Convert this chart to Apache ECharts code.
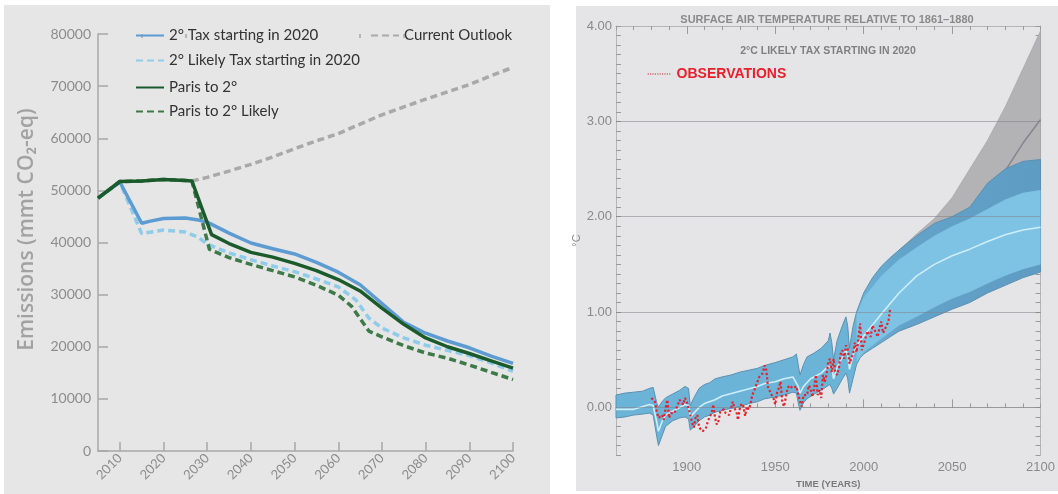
<!DOCTYPE html>
<html><head><meta charset="utf-8">
<script src="https://cdn.jsdelivr.net/npm/echarts/dist/echarts.min.js"></script>
<style>
html,body{margin:0;padding:0;background:#fff;width:1058px;height:494px;overflow:hidden}
#p1{position:absolute;left:4px;top:5px;width:546px;height:489px;background:#e6e6e7}
#p2{position:absolute;left:576px;top:6px;width:482px;height:485px;background:#e5e5e7}
#c{position:absolute;left:0;top:0;width:1058px;height:494px}
</style></head><body>
<div id="p1"></div><div id="p2"></div><div id="c"></div>
<script>
// ---------- Left panel: emissions ----------
const decadeTicks = [2010,2020,2030,2040,2050,2060,2070,2080,2090,2100];
const halfTicks = [2015,2025,2035,2045,2055,2065,2075,2085,2095];

const emYearsTax = [2005,2010,2015,2017,2020,2025,2028,2030,2035,2040,2045,2050,2055,2060,2065,2070,2075,2080,2085,2090,2095,2100];
const emTax      = [48500,51600,43700,44100,44600,44700,44300,43900,41800,39900,38800,37800,36200,34300,31900,28300,24700,22600,21100,19800,18200,16800];

const emYearsLikely = [2005,2010,2015,2020,2025,2028,2030,2035,2040,2045,2050,2055,2060,2064,2067,2070,2075,2080,2085,2090,2095,2100];
const emLikely      = [48500,51600,41700,42400,42000,41000,39700,38000,36700,35500,34400,33000,31500,29000,25500,23600,21700,20300,19300,18300,16900,15300];

const emYearsParis = [2005,2010,2015,2020,2025,2026.5,2031,2035,2040,2045,2050,2055,2060,2065,2070,2075,2080,2085,2090,2095,2100];
const emParis      = [48500,51700,51800,52100,51900,51800,41500,39800,38100,37200,36000,34600,32900,30700,27400,24300,21700,20000,18700,17300,15900];

const emYearsParisLikely = [2005,2010,2015,2020,2025,2026.5,2030.5,2035,2040,2045,2050,2055,2060,2063,2065,2067,2070,2075,2080,2085,2090,2095,2100];
const emParisLikely      = [48500,51700,51800,52100,51900,51800,38700,37100,35800,34600,33400,31800,29900,27800,25400,23000,21900,20200,18800,17800,16500,15100,13700];

const emYearsOutlook = [2026.5,2030,2035,2040,2045,2050,2055,2060,2065,2070,2075,2080,2085,2090,2095,2100];
const emOutlook      = [51800,52500,53700,55000,56400,58000,59500,60900,62700,64500,66000,67500,68900,70300,72000,73600];

// ---------- Right panel: temperature ----------
const majorYears = [1900,1950,2000,2050];
const tempGridLines = [0,1,2,3];

const bandYears = [1860,1865,1870,1875,1879,1881,1883,1884,1886,1888,1892,1896,1899,1901,1902,1904,1907,1910,1913,1916,1920,1925,1930,1935,1940,1944,1950,1955,1960,1962,1963,1964,1966,1968,1972,1976,1980,1981,1982,1983,1985,1988,1990,1991,1992,1994,1996,1998,2000,2005,2010,2015,2020,2030,2040,2050,2060,2070,2080,2090,2100];
const bandHigh  = [0.13,0.15,0.16,0.17,0.2, 0.21,0.05,0.0,0.06,0.1, 0.14,0.18,0.22,0.2,0.02, 0.1,0.2,0.24,0.26,0.3, 0.32,0.34,0.37,0.39,0.41, 0.44,0.47,0.5,0.53,0.56, 0.45,0.34,0.45,0.53,0.57, 0.62,0.7,0.78,0.68,0.5, 0.7,0.86,0.95,0.85,0.62, 0.85,1.0,1.1,1.2,1.36, 1.48,1.57,1.65,1.8,1.93, 2.0,2.1,2.35,2.5,2.58, 2.6];
const bandLow   = [-0.11,-0.1,-0.08,-0.07,-0.06, -0.08,-0.3,-0.4,-0.3,-0.2, -0.14,-0.11,-0.1,-0.12,-0.24, -0.2,-0.14,-0.1,-0.08,-0.05, -0.03,-0.01,0.01,0.04,0.06, 0.09,0.11,0.13,0.16,0.15, 0.05,-0.03,0.05,0.09,0.14, 0.18,0.23,0.24,0.2,0.14, 0.2,0.3,0.36,0.3,0.15, 0.3,0.45,0.52,0.56,0.62, 0.68,0.74,0.8,0.87,0.95, 1.03,1.1,1.2,1.28,1.36, 1.42];

const coreYears = [1996,2000,2010,2020,2030,2040,2050,2060,2070,2080,2090,2100];
const coreHigh  = [0.98,1.15,1.38,1.55,1.68,1.8,1.9,1.98,2.08,2.18,2.25,2.28];
const coreLow   = [0.47,0.58,0.72,0.86,0.95,1.05,1.14,1.21,1.3,1.38,1.45,1.5];

const medYears = [1860,1870,1879,1881,1883,1884,1886,1888,1892,1896,1899,1901,1902,1904,1907,1910,1916,1920,1930,1940,1944,1950,1955,1960,1963,1964,1966,1970,1976,1980,1982,1983,1985,1988,1990,1991,1992,1994,1996,2000,2010,2020,2030,2040,2050,2060,2070,2080,2090,2100];
const medVals  = [-0.02,-0.02,0.03,0.02,-0.15,-0.25,-0.15,-0.08,-0.04,0.0,0.03,0.02,-0.1,-0.06,0.0,0.04,0.08,0.12,0.17,0.22,0.25,0.27,0.3,0.32,0.22,0.15,0.22,0.3,0.36,0.43,0.42,0.3,0.42,0.53,0.6,0.55,0.4,0.55,0.65,0.75,0.98,1.2,1.38,1.5,1.59,1.66,1.74,1.81,1.86,1.89];

const grayYears = [2015,2020,2030,2040,2050,2060,2070,2080,2090,2100];
const grayHigh  = [1.5,1.65,1.82,1.98,2.2,2.5,2.8,3.15,3.55,3.95];
const grayLow   = [0.9,1.0,1.1,1.2,1.35,1.45,1.55,1.65,1.7,1.75];
const grayMedYears = [2050,2060,2070,2080,2090,2100];
const grayMed      = [1.7,1.95,2.2,2.48,2.77,3.02];

const obsYears = [];
for (let y = 1880; y <= 2015; y++) obsYears.push(y);
const obsVals = [0.10,0.11,0.06,-0.04,-0.11,-0.13,-0.08,-0.13,-0.01,0.08,
 -0.11,-0.06,-0.04,-0.06,-0.04,0.03,0.08,0.06,0.03,0.10,
 0.06,0.04,-0.08,-0.16,-0.21,-0.11,-0.08,-0.21,-0.23,-0.25,
 -0.23,-0.21,-0.14,-0.13,-0.06,0.03,-0.11,-0.18,-0.14,-0.04,
 -0.04,-0.02,-0.06,-0.04,-0.08,-0.01,0.06,-0.01,-0.04,-0.13,
 -0.01,0.04,0.01,-0.09,0.01,-0.02,0.03,0.13,0.17,0.17,
 0.27,0.32,0.34,0.36,0.44,0.39,0.20,0.17,0.13,0.10,
 0.03,0.15,0.20,0.27,0.06,0.01,0.01,0.20,0.23,0.22,
 0.20,0.22,0.22,0.23,0.06,0.01,0.13,0.15,0.13,0.23,
 0.20,0.11,0.20,0.34,0.13,0.18,0.10,0.34,0.27,0.34,
 0.48,0.51,0.37,0.51,0.37,0.34,0.41,0.56,0.60,0.51,
 0.65,0.61,0.46,0.48,0.56,0.68,0.58,0.72,0.88,0.60,
 0.62,0.72,0.80,0.80,0.74,0.86,0.82,0.84,0.74,0.84,
 0.90,0.78,0.82,0.86,0.90,1.04];

const pairs = (xs, ys) => xs.map((x, i) => [x, ys[i]]);

function band(name, xs, lo, hi, fill, stroke, lw, z) {
  return {
    name, type: 'custom', xAxisIndex: 2, yAxisIndex: 1, z, silent: true,
    data: [[xs[0], lo[0]]],
    renderItem: function (params, api) {
      const pts = [];
      for (let i = 0; i < xs.length; i++) pts.push(api.coord([xs[i], hi[i]]));
      for (let i = xs.length - 1; i >= 0; i--) pts.push(api.coord([xs[i], lo[i]]));
      return { type: 'polygon', shape: { points: pts },
        style: { fill: fill, stroke: stroke || null, lineWidth: lw || 0 } };
    }
  };
}

const chart = echarts.init(document.getElementById('c'), null, { renderer: 'canvas' });
const axisGray = '#a8a8a8';
const lblGray = '#8c8c8c';
const legendText = { fontSize: 15, color: '#333333', fontFamily: 'Lato' };
const noSymbol = { opacity: 0 };

const option = {
  animation: false,
  backgroundColor: 'transparent',
  title: [
    { text: 'SURFACE AIR TEMPERATURE RELATIVE TO 1861\u20131880', left: 822, top: 9, textAlign: 'center',
      textStyle: { fontSize: 11, fontWeight: 'bold', color: '#8a8a8a', fontFamily: 'Liberation Sans' } },
    { text: '2\u00b0C LIKELY TAX STARTING IN 2020', left: 823, top: 41, textAlign: 'center',
      textStyle: { fontSize: 10.5, fontWeight: 'bold', color: '#808080', fontFamily: 'Liberation Sans' } }
  ],
  legend: [
    { data: ['2\u00b0 Tax starting in 2020', '2\u00b0 Likely Tax starting in 2020'], orient: 'vertical', padding: 0,
      left: 135, top: 28, itemWidth: 28, itemHeight: 14, itemGap: 10, selectedMode: false, textStyle: legendText, itemStyle: noSymbol },
    { data: ['Paris to 2\u00b0', 'Paris to 2\u00b0 Likely'], orient: 'vertical', padding: 0,
      left: 135, top: 80, itemWidth: 28, itemHeight: 14, itemGap: 9, selectedMode: false, textStyle: legendText, itemStyle: noSymbol },
    { data: ['Current Outlook'], orient: 'vertical', padding: 0,
      left: 370, top: 28, itemWidth: 28, itemHeight: 14, selectedMode: false, textStyle: legendText, itemStyle: noSymbol },
    { data: ['OBSERVATIONS'], left: 647, top: 67, padding: 0, itemWidth: 24, itemHeight: 14, selectedMode: false,
      lineStyle: { width: 1.2 }, itemStyle: noSymbol,
      textStyle: { fontSize: 14, fontWeight: 'bold', color: '#e8202a', fontFamily: 'Liberation Sans' } }
  ],
  grid: [
    { left: 98, right: 545, top: 34, bottom: 43 },
    { left: 616, right: 13, top: 26, bottom: 37 }
  ],
  xAxis: [
    { gridIndex: 0, type: 'value', min: 2005, max: 2100,
      axisLine: { show: true, lineStyle: { color: axisGray, width: 1.5 } },
      axisTick: { show: true, inside: true, length: 9, customValues: decadeTicks, lineStyle: { color: axisGray, width: 1.5 } },
      axisLabel: { customValues: decadeTicks, rotate: 45, color: lblGray, fontSize: 13, margin: 5, fontFamily: 'Lato',
        formatter: v => String(Math.round(v)) },
      splitLine: { show: false } },
    { gridIndex: 0, type: 'value', min: 2005, max: 2100,
      axisLine: { show: false },
      axisTick: { show: true, inside: true, length: 4, customValues: halfTicks, lineStyle: { color: axisGray, width: 1.5 } },
      axisLabel: { show: false }, splitLine: { show: false } },
    { gridIndex: 1, type: 'value', min: 1860, max: 2100, interval: 10, position: 'bottom',
      name: 'TIME (YEARS)', nameLocation: 'middle', nameGap: 22,
      nameTextStyle: { fontSize: 9.5, fontWeight: 'bold', color: '#7a7a7a', fontFamily: 'Liberation Sans' },
      axisLine: { show: true, lineStyle: { color: '#b5b5b5' } },
      axisTick: { show: true, inside: true, length: 4, lineStyle: { color: '#9a9a9a' } },
      axisLabel: { color: '#8a8a8a', fontSize: 13, margin: 6, fontFamily: 'Liberation Sans',
        formatter: v => (Math.round(v) % 50 === 0 && v > 1860) ? String(Math.round(v)) : '' },
      splitLine: { show: false } },
    { gridIndex: 1, type: 'value', min: 1860, max: 2100, position: 'bottom',
      axisLine: { show: false },
      axisTick: { show: true, inside: true, length: 8, customValues: majorYears, lineStyle: { color: '#9a9a9a' } },
      axisLabel: { show: false }, splitLine: { show: false } },
    { gridIndex: 1, type: 'value', min: 1860, max: 2100, interval: 10, position: 'top',
      axisLine: { show: true, lineStyle: { color: '#b5b5b5' } },
      axisTick: { show: true, inside: true, length: 4, lineStyle: { color: '#9a9a9a' } },
      axisLabel: { show: false }, splitLine: { show: false } },
    { gridIndex: 1, type: 'value', min: 1860, max: 2100, position: 'top',
      axisLine: { show: false },
      axisTick: { show: true, inside: true, length: 8, customValues: majorYears, lineStyle: { color: '#9a9a9a' } },
      axisLabel: { show: false }, splitLine: { show: false } }
  ],
  yAxis: [
    { gridIndex: 0, type: 'value', min: 0, max: 80000, interval: 10000,
      name: 'Emissions (mmt CO\u2082-eq)', nameLocation: 'middle', nameGap: 60,
      nameTextStyle: { fontSize: 21, color: '#a2a2a2', fontFamily: 'Open Sans', fontWeight: 600, padding: [0, 0, 0, 26] },
      axisLine: { show: true, lineStyle: { color: axisGray, width: 1.5 } },
      axisTick: { show: true, inside: true, length: 10, lineStyle: { color: axisGray, width: 1.5 } },
      axisLabel: { color: lblGray, fontSize: 14, margin: 7, fontFamily: 'Lato', formatter: v => String(Math.round(v)) },
      splitLine: { show: false } },
    { gridIndex: 1, type: 'value', min: -0.5, max: 4, interval: 0.1,
      name: '\u00b0C', nameLocation: 'middle', nameGap: 30,
      nameTextStyle: { fontSize: 11, color: '#8a8a8a', fontFamily: 'Liberation Sans' },
      axisLine: { show: true, lineStyle: { color: '#b5b5b5' } },
      axisTick: { show: true, inside: true, length: 5, lineStyle: { color: '#9a9a9a' } },
      axisLabel: { color: '#8a8a8a', fontSize: 13, margin: 4, fontFamily: 'Liberation Sans',
        formatter: v => Math.abs(v - Math.round(v)) < 1e-6 ? Math.round(v).toFixed(2) : '' },
      splitLine: { show: false } },
    { gridIndex: 1, type: 'value', min: -0.5, max: 4, interval: 0.1, position: 'right',
      axisLine: { show: true, lineStyle: { color: '#b5b5b5' } },
      axisTick: { show: true, inside: true, length: 5, lineStyle: { color: '#9a9a9a' } },
      axisLabel: { show: false }, splitLine: { show: false } }
  ],
  series: [
    { name: 'Current Outlook', type: 'line', xAxisIndex: 0, yAxisIndex: 0, symbol: 'none', z: 2,
      data: pairs(emYearsOutlook, emOutlook), color: '#a9a9aa',
      lineStyle: { width: 3.5, type: [7, 4], color: '#a9a9aa' } },
    { name: '2\u00b0 Likely Tax starting in 2020', type: 'line', xAxisIndex: 0, yAxisIndex: 0, symbol: 'none', z: 3,
      data: pairs(emYearsLikely, emLikely), color: '#8fcbea',
      lineStyle: { width: 3.5, type: [7, 4], color: '#8fcbea' } },
    { name: '2\u00b0 Tax starting in 2020', type: 'line', xAxisIndex: 0, yAxisIndex: 0, symbol: 'none', z: 4,
      data: pairs(emYearsTax, emTax), color: '#5d9bd3',
      lineStyle: { width: 3.5, color: '#5d9bd3' } },
    { name: 'Paris to 2\u00b0 Likely', type: 'line', xAxisIndex: 0, yAxisIndex: 0, symbol: 'none', z: 5,
      data: pairs(emYearsParisLikely, emParisLikely), color: '#3d7a47',
      lineStyle: { width: 3.5, type: [7, 4], color: '#3d7a47' } },
    { name: 'Paris to 2\u00b0', type: 'line', xAxisIndex: 0, yAxisIndex: 0, symbol: 'none', z: 6,
      data: pairs(emYearsParis, emParis), color: '#1b5a2b',
      lineStyle: { width: 3.5, color: '#1b5a2b' } },

    band('grayBand', grayYears, grayLow, grayHigh, '#b3b3b6', 'rgba(160,160,165,0.8)', 0.8, 2),
    { name: 'grayMedian', type: 'line', xAxisIndex: 2, yAxisIndex: 1, symbol: 'none', z: 3, silent: true,
      data: pairs(grayMedYears, grayMed), lineStyle: { width: 1.5, color: '#86868a' } },
    band('blueBand', bandYears, bandLow, bandHigh,
      { type: 'linear', x: 0, y: 0, x2: 1, y2: 0, colorStops: [
        { offset: 0, color: '#6cb3d8' }, { offset: 0.56, color: '#6cb3d8' },
        { offset: 0.68, color: '#64a3c9' }, { offset: 1, color: '#5e9cc3' }] },
      '#5b8fb0', 1, 4),
    band('coreBand', coreYears, coreLow, coreHigh, '#7ec3e3', null, 0, 5),
    { name: 'blueMedian', type: 'line', xAxisIndex: 2, yAxisIndex: 1, symbol: 'none', z: 6, silent: true,
      data: pairs(medYears, medVals), lineStyle: { width: 1.6, color: '#cdeefa' } },
    { name: 'OBSERVATIONS', type: 'line', xAxisIndex: 2, yAxisIndex: 1, symbol: 'none', z: 8,
      data: pairs(obsYears, obsVals), color: '#e3232b',
      lineStyle: { width: 2.2, type: 'dotted', color: '#e3232b' },
      markLine: { silent: true, symbol: 'none', label: { show: false }, z: 7,
        lineStyle: { color: 'rgba(130,130,135,0.55)', width: 1, type: 'solid' },
        data: tempGridLines.map(v => ({ yAxis: v })) } }
  ]
};
chart.setOption(option);
</script>
</body></html>
